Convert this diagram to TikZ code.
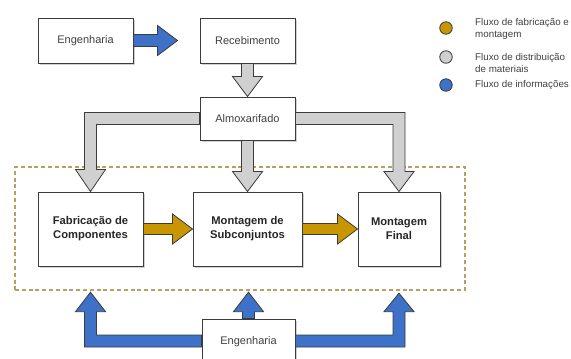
\documentclass[tikz,border=0pt]{standalone}
\usepackage{fontspec}
\setmainfont{Liberation Sans}
\usetikzlibrary{calc,shadows}
\definecolor{fblue}{HTML}{3D72C8}
\definecolor{fgold}{HTML}{C89600}
\definecolor{fgray}{HTML}{D0D0D0}
\definecolor{fline}{HTML}{3C3C3C}
\definecolor{fdash}{HTML}{B8A060}
\tikzset{
  boxn/.style={draw=fline, line width=0.9pt, fill=white, minimum width=#1, inner sep=0pt,
    align=center, font=\fontsize{11}{13}\selectfont, text=black!75,
    drop shadow={shadow xshift=2pt, shadow yshift=-2pt, fill=black!30, opacity=0.6}},
  boxn/.default=95pt,
  boxb/.style={boxn=#1, font=\fontsize{11.2}{14}\selectfont\bfseries, text=black!85},
  fat/.style={draw=fline, line width=0.8pt, line join=miter},
  legtext/.style={anchor=west, align=left, font=\fontsize{9.8}{12}\selectfont, text=black!75, inner sep=0pt},
  legdot/.style={circle, draw=fline, line width=0.8pt, minimum size=12.5pt, inner sep=0pt}
}
\begin{document}
\begin{tikzpicture}[x=1pt,y=-1pt]
\useasboundingbox (0,0) rectangle (571,359);
% dashed frame
\node[draw=fdash, line width=1.3pt, dash pattern=on 4pt off 2.8pt, minimum width=450pt, minimum height=123pt, inner sep=0pt] (frame) at (240,228.5) {};
% boxes
\node[boxn, minimum height=45pt] (eng1) at (85.5,40.5) {Engenharia};
\node[boxn, minimum height=45pt] (rec) at (247.5,40.5) {Recebimento};
\node[boxn, minimum height=43pt] (alm) at (247.5,118.5) {Almoxarifado};
\node[boxb=105pt, minimum height=74pt] (fab) at (90.5,229) {Fabricação de\\Componentes};
\node[boxb=109pt, minimum height=74pt] (sub) at (247.5,229) {Montagem de\\Subconjuntos};
\node[boxb=82pt, minimum height=74pt] (fin) at (399,229) {Montagem\\Final};
\node[boxn=93pt, minimum height=46pt] (eng2) at (248.5,342) {Engenharia};
% blue: eng1 -> rec
\coordinate (t1) at ($(rec.west)+(-22,0)$);
\draw[fat, fill=fblue] ($(eng1.east)+(0,-6)$) -- ($(t1)+(-20,-6)$) -- ($(t1)+(-20,-15)$) -- (t1)
  -- ($(t1)+(-20,15)$) -- ($(t1)+(-20,6)$) -- ($(eng1.east)+(0,6)$) -- cycle;
% gray: rec -> alm
\draw[fat, fill=fgray] ($(rec.south)+(-6,0)$) -- ($(alm.north)+(-6,-20)$) -- ($(alm.north)+(-15,-20)$) -- (alm.north)
  -- ($(alm.north)+(15,-20)$) -- ($(alm.north)+(6,-20)$) -- ($(rec.south)+(6,0)$) -- cycle;
% gray: alm -> fab (elbow)
\draw[fat, fill=fgray] ($(alm.west)+(0,-6)$) -- ($(fab.north |- alm.west)+(-6,-6)$)
  -- ($(fab.north)+(-6,-22)$) -- ($(fab.north)+(-15,-22)$) -- (fab.north) -- ($(fab.north)+(15,-22)$)
  -- ($(fab.north)+(6,-22)$) -- ($(fab.north |- alm.west)+(6,6)$) -- ($(alm.west)+(0,6)$) -- cycle;
% gray: alm -> sub
\draw[fat, fill=fgray] ($(alm.south)+(-6,0)$) -- ($(sub.north)+(-6,-20)$) -- ($(sub.north)+(-15,-20)$) -- (sub.north)
  -- ($(sub.north)+(15,-20)$) -- ($(sub.north)+(6,-20)$) -- ($(alm.south)+(6,0)$) -- cycle;
% gray: alm -> fin (elbow)
\draw[fat, fill=fgray] ($(alm.east)+(0,-6)$) -- ($(fin.north |- alm.east)+(6,-6)$)
  -- ($(fin.north)+(6,-20)$) -- ($(fin.north)+(15,-20)$) -- (fin.north) -- ($(fin.north)+(-15,-20)$)
  -- ($(fin.north)+(-6,-20)$) -- ($(fin.north |- alm.east)+(-6,6)$) -- ($(alm.east)+(0,6)$) -- cycle;
% gold: fab -> sub
\draw[fat, fill=fgold] ($(fab.east)+(0,-5.5)$) -- ($(sub.west)+(-20,-5.5)$) -- ($(sub.west)+(-20,-15)$) -- (sub.west)
  -- ($(sub.west)+(-20,15)$) -- ($(sub.west)+(-20,5.5)$) -- ($(fab.east)+(0,5.5)$) -- cycle;
% gold: sub -> fin
\draw[fat, fill=fgold] ($(sub.east)+(0,-5.5)$) -- ($(fin.west)+(-20,-5.5)$) -- ($(fin.west)+(-20,-15)$) -- (fin.west)
  -- ($(fin.west)+(-20,15)$) -- ($(fin.west)+(-20,5.5)$) -- ($(sub.east)+(0,5.5)$) -- cycle;
% blue bottom: eng2 -> frame (left, middle, right)
\coordinate (bl) at (frame.south -| fab.north);
\coordinate (bm) at (frame.south -| eng2.north);
\coordinate (br) at (frame.south -| fin.north);
\coordinate (eL) at ($(eng2.west)+(0,-1)$);
\coordinate (eR) at ($(eng2.east)+(0,-1)$);
\draw[fat, fill=fblue] ($(eL)+(0,6)$) -- ($(bl |- eL)+(-6,6)$) -- ($(bl)+(-6,21)$) -- ($(bl)+(-15,21)$)
  -- ($(bl)+(0,1.5)$) -- ($(bl)+(15,21)$) -- ($(bl)+(6,21)$) -- ($(bl |- eL)+(6,-6)$) -- ($(eL)+(0,-6)$) -- cycle;
\draw[fat, fill=fblue] ($(eng2.north)+(-6,0)$) -- ($(bm)+(-6,21)$) -- ($(bm)+(-15,21)$) -- ($(bm)+(0,1.5)$)
  -- ($(bm)+(15,21)$) -- ($(bm)+(6,21)$) -- ($(eng2.north)+(6,0)$) -- cycle;
\draw[fat, fill=fblue] ($(eR)+(0,6)$) -- ($(br |- eR)+(6,6)$) -- ($(br)+(6,21)$) -- ($(br)+(15,21)$)
  -- ($(br)+(0,2.5)$) -- ($(br)+(-15,21)$) -- ($(br)+(-6,21)$) -- ($(br |- eR)+(-6,-6)$) -- ($(eR)+(0,-6)$) -- cycle;
% legend
\node[legdot, fill=fgold] (d1) at (446,28) {};
\node[legdot, fill=fgray] (d2) at (446,57) {};
\node[legdot, fill=fblue] (d3) at (446,85) {};
\node[legtext] (l1) at (475,29) {Fluxo de fabricação e\\montagem};
\node[legtext] (l2) at (475,63) {Fluxo de distribuição\\de materiais};
\node[legtext] (l3) at (475,85) {Fluxo de informações};
\end{tikzpicture}
\end{document}
